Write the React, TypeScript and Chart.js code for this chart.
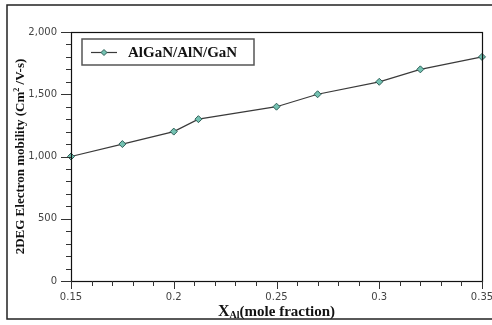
import React, { useEffect, useRef } from "react";
import { Chart, registerables } from "chart.js";

Chart.register(...registerables);

const xValues = [0.15, 0.175, 0.2, 0.212, 0.25, 0.27, 0.3, 0.32, 0.35];
const mobility = [1000, 1100, 1200, 1300, 1400, 1500, 1600, 1700, 1800];
const seriesName = "AlGaN/AlN/GaN";
const yTitleMain = "2DEG Electron mobility (Cm";
const yTitleSup = "2";
const yTitleEnd = " /V-s)";
const xTitleMain = "X";
const xTitleSub = "Al";
const xTitleEnd = "(mole fraction)";

const LINE = "#3a3a3a";
const MFILL = "#74c2b2";
const MBORDER = "#2f5f58";
const SERIF = '"Liberation Serif", "Times New Roman", serif';
const SANS = '"DejaVu Sans", Verdana, sans-serif';

function diamond(ctx: CanvasRenderingContext2D, x: number, y: number, r: number) {
  ctx.beginPath();
  ctx.moveTo(x, y - r);
  ctx.lineTo(x + r, y);
  ctx.lineTo(x, y + r);
  ctx.lineTo(x - r, y);
  ctx.closePath();
  ctx.fillStyle = MFILL;
  ctx.fill();
  ctx.strokeStyle = MBORDER;
  ctx.lineWidth = 1;
  ctx.stroke();
}

const decor = {
  id: "decor",
  afterDraw(chart: any) {
    const ctx: CanvasRenderingContext2D = chart.ctx;
    const a = chart.chartArea;
    const xs = chart.scales.x;
    const ys = chart.scales.y;
    ctx.save();
    // outer frame
    ctx.strokeStyle = "#222";
    ctx.lineWidth = 1.5;
    ctx.strokeRect(7, 5, 520, 314);
    // plot frame
    ctx.strokeStyle = "#111";
    ctx.lineWidth = 1.2;
    ctx.strokeRect(Math.round(a.left) + 0.5, Math.round(a.top) + 0.5, Math.round(a.right - a.left), Math.round(a.bottom - a.top));
    // ticks
    ctx.strokeStyle = "#333";
    ctx.lineWidth = 1;
    xs.ticks.forEach((t: any) => {
      const px = Math.round(xs.getPixelForValue(t.value)) + 0.5;
      const major = Math.abs(t.value * 20 - Math.round(t.value * 20)) < 1e-6;
      ctx.beginPath();
      ctx.moveTo(px, a.bottom);
      ctx.lineTo(px, a.bottom + (major ? 8 : 5));
      ctx.stroke();
    });
    ys.ticks.forEach((t: any) => {
      const py = Math.round(ys.getPixelForValue(t.value)) + 0.5;
      const major = t.value % 500 === 0;
      ctx.beginPath();
      ctx.moveTo(a.left, py);
      ctx.lineTo(a.left - (major ? 10 : 5), py);
      ctx.stroke();
    });
    // legend
    ctx.strokeStyle = "#555";
    ctx.lineWidth = 1.5;
    ctx.strokeRect(82, 39, 172, 26);
    ctx.strokeStyle = LINE;
    ctx.lineWidth = 1.2;
    ctx.beginPath();
    ctx.moveTo(91, 52.5);
    ctx.lineTo(117, 52.5);
    ctx.stroke();
    diamond(ctx, 104, 52.5, 3);
    ctx.fillStyle = "#111";
    ctx.font = "bold 15px " + SERIF;
    ctx.textBaseline = "middle";
    ctx.textAlign = "left";
    ctx.fillText(seriesName, 128, 53);
    // x title
    ctx.textBaseline = "alphabetic";
    const f1 = "bold 16px " + SERIF;
    const f2 = "bold 10px " + SERIF;
    const f3 = "bold 15px " + SERIF;
    ctx.font = f1;
    const w1 = ctx.measureText(xTitleMain).width;
    ctx.font = f2;
    const w2 = ctx.measureText(xTitleSub).width;
    ctx.font = f3;
    const w3 = ctx.measureText(xTitleEnd).width;
    const cx = (a.left + a.right) / 2;
    let x0 = cx - (w1 + w2 + w3) / 2;
    const by = 316;
    ctx.font = f1;
    ctx.fillText(xTitleMain, x0, by);
    x0 += w1;
    ctx.font = f2;
    ctx.fillText(xTitleSub, x0, by + 2);
    x0 += w2;
    ctx.font = f3;
    ctx.fillText(xTitleEnd, x0, by);
    // y title
    ctx.save();
    ctx.translate(24, (a.top + a.bottom) / 2);
    ctx.rotate(-Math.PI / 2);
    const g1 = "bold 13px " + SERIF;
    const g2 = "bold 8px " + SERIF;
    ctx.font = g1;
    const u1 = ctx.measureText(yTitleMain).width;
    const u3 = ctx.measureText(yTitleEnd).width;
    ctx.font = g2;
    const u2 = ctx.measureText(yTitleSup).width;
    let y0 = -(u1 + u2 + u3) / 2;
    ctx.font = g1;
    ctx.fillText(yTitleMain, y0, 0);
    y0 += u1;
    ctx.font = g2;
    ctx.fillText(yTitleSup, y0, -5);
    y0 += u2;
    ctx.font = g1;
    ctx.fillText(yTitleEnd, y0, 0);
    ctx.restore();
    ctx.restore();
  },
};

export default function App() {
  const ref = useRef<HTMLCanvasElement>(null);
  useEffect(() => {
    const canvas = ref.current!;
    const chart = new Chart(canvas, {
      type: "line",
      data: {
        datasets: [
          {
            label: seriesName,
            data: xValues.map((x, i) => ({ x, y: mobility[i] })),
            borderColor: LINE,
            borderWidth: 1.2,
            pointStyle: "rectRot",
            pointRadius: 3.5,
            pointBackgroundColor: MFILL,
            pointBorderColor: MBORDER,
            pointBorderWidth: 1,
            tension: 0,
            clip: false as any,
          },
        ],
      },
      options: {
        animation: false,
        responsive: false,
        layout: { padding: { left: 0, top: 32, right: 10, bottom: 0 } },
        plugins: { legend: { display: false }, tooltip: { enabled: false } },
        scales: {
          x: {
            type: "linear",
            min: 0.15,
            max: 0.35,
            grid: { display: false, drawTicks: false },
            border: { display: false },
            ticks: {
              stepSize: 0.01,
              autoSkip: false,
              maxRotation: 0,
              padding: 10,
              color: "#444",
              font: { family: SANS, size: 10 },
              callback: (v: any) => {
                const n = Number(v);
                return Math.abs(n * 20 - Math.round(n * 20)) < 1e-6 ? String(Math.round(n * 100) / 100) : "";
              },
            },
            afterFit: (s: any) => {
              s.height = 44;
              s.paddingLeft = 0;
              s.paddingRight = 0;
            },
          },
          y: {
            min: 0,
            max: 2000,
            grid: { display: false, drawTicks: false },
            border: { display: false },
            ticks: {
              stepSize: 100,
              autoSkip: false,
              padding: 14,
              color: "#444",
              font: { family: SANS, size: 10 },
              callback: (v: any) => {
                const n = Number(v);
                return n % 500 === 0 ? n.toLocaleString("en-US") : "";
              },
            },
            afterFit: (s: any) => {
              s.width = 71;
              s.paddingTop = 0;
              s.paddingBottom = 0;
            },
          },
        },
      },
      plugins: [decor],
    });
    return () => chart.destroy();
  }, []);
  return (
    <div style={{ position: "absolute", left: 0, top: 0, width: 492, height: 325, background: "#fff" }}>
      <canvas ref={ref} width={492} height={325} />
    </div>
  );
}
